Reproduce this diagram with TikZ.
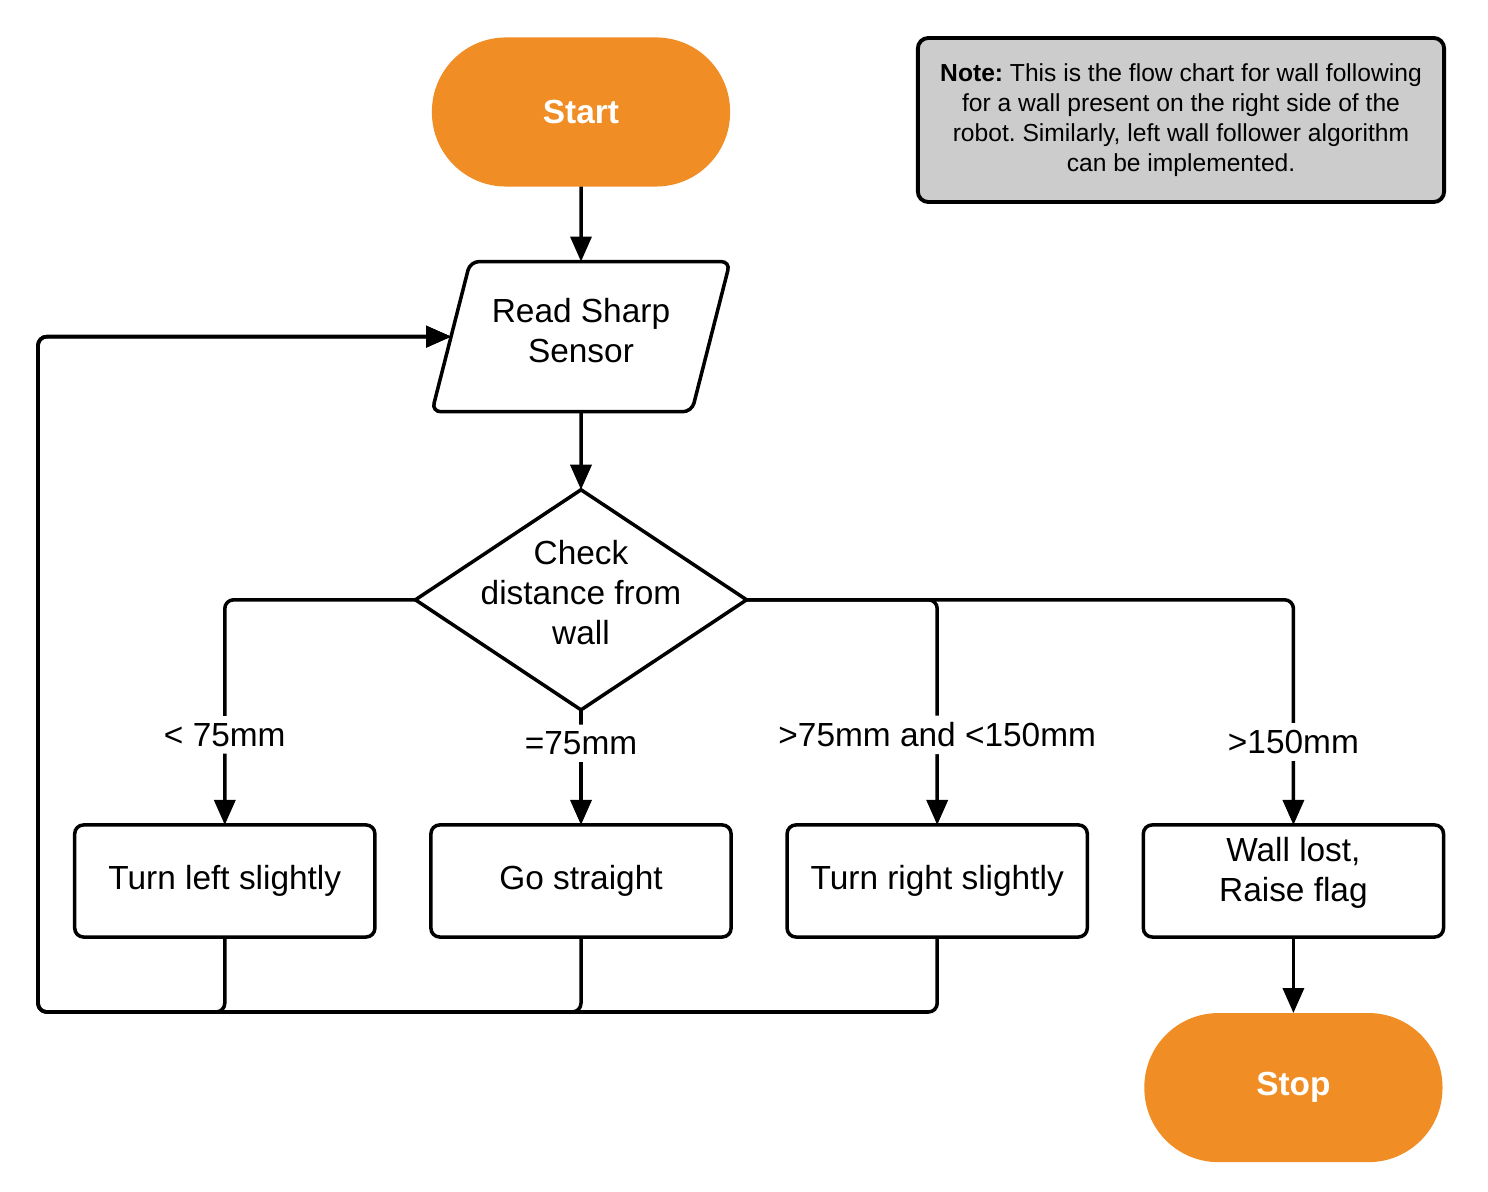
\documentclass[tikz,border=0pt]{standalone}
\usepackage{fontspec}
\setmainfont{Liberation Sans}
\usetikzlibrary{positioning, arrows.meta, shapes.geometric}
\definecolor{startorange}{HTML}{F08D24}
\definecolor{notegray}{HTML}{CCCCCC}
\frenchspacing

\begin{document}
\begin{tikzpicture}[
    x=0.01cm, y=-0.01cm,
    every node/.style={font=\fontsize{9.5}{11.4}\selectfont, outer sep=0pt},
    terminal/.style={fill=startorange, rounded corners=0.74cm, minimum width=2.98cm, minimum height=1.49cm, text=white, font=\fontsize{9.5}{11.4}\selectfont\bfseries},
    io/.style={draw, line width=1pt, trapezium, trapezium left angle=69, trapezium right angle=111, trapezium stretches body, minimum width=2.98cm, minimum height=1.5cm, rounded corners=2.5pt, align=center, text depth=0.12cm},
    decision/.style={draw, line width=1pt, diamond, minimum width=3.31cm, minimum height=2.2cm, inner sep=0pt},
    process/.style={draw, line width=1pt, rounded corners=2.5pt, minimum width=3cm, minimum height=1.12cm, align=center},
    notebox/.style={draw, line width=1.1pt, fill=notegray, rounded corners=3pt, minimum width=5.26cm, minimum height=1.64cm, align=center, font=\fontsize{7}{8.5}\selectfont},
    cond/.style={fill=white, inner sep=2pt},
    flow/.style={line width=1pt, rounded corners=2.5pt},
    flowarr/.style={flow, -{Triangle[length=0.25cm, width=0.21cm]}}
]
\useasboundingbox (0,0) rectangle (1488,1192);

% Main column
\node[terminal] (start) at (581,112) {Start};
\node[io, below=0.75cm of start] (read) {Read Sharp\\Sensor};
\node[decision, below=0.78cm of read] (check) {};
\node[align=center] (checktext) at ([yshift=0.07cm]check.center) {Check\\distance from\\wall};

% Actions
\node[process, below=1.15cm of check] (gs) {Go straight};
\node[process, left=0.56cm of gs] (tl) {Turn left slightly};
\node[process, right=0.56cm of gs] (tr) {Turn right slightly};
\node[process, right=0.56cm of tr, text depth=0.23cm] (wl) {Wall lost,\\Raise flag};
\node[terminal, below=0.76cm of wl] (stop) {Stop};

% Note
\node[notebox] (note) at (1181,120) {\textbf{Note:} This is the flow chart for wall following\\for a wall present on the right side of the\\robot. Similarly, left wall follower algorithm\\can be implemented.};

% Arrows
\draw[flowarr] (start) -- (read);
\draw[flowarr] (read) -- (check);
\draw[flowarr] (check.west) -| node[cond, pos=0.8] (lt) {< 75mm} (tl.north);
\draw[flowarr] (check.south) -- node[cond, pos=0.29] (eq) {=75mm} (gs.north);
\draw[flowarr] (check.east) -| node[cond, pos=0.8] (mid) {>75mm and <150mm} (tr.north);
\draw[flowarr] (check.east) -| node[cond, pos=0.816] (gt) {>150mm} (wl.north);
\draw[flowarr] (wl) -- (stop);

% Loop back
\coordinate (back) at (38,1012);
\foreach \b in {tl,gs,tr}
    \draw[flowarr] (\b.south) |- (back) |- (read.west);

\end{tikzpicture}
\end{document}
